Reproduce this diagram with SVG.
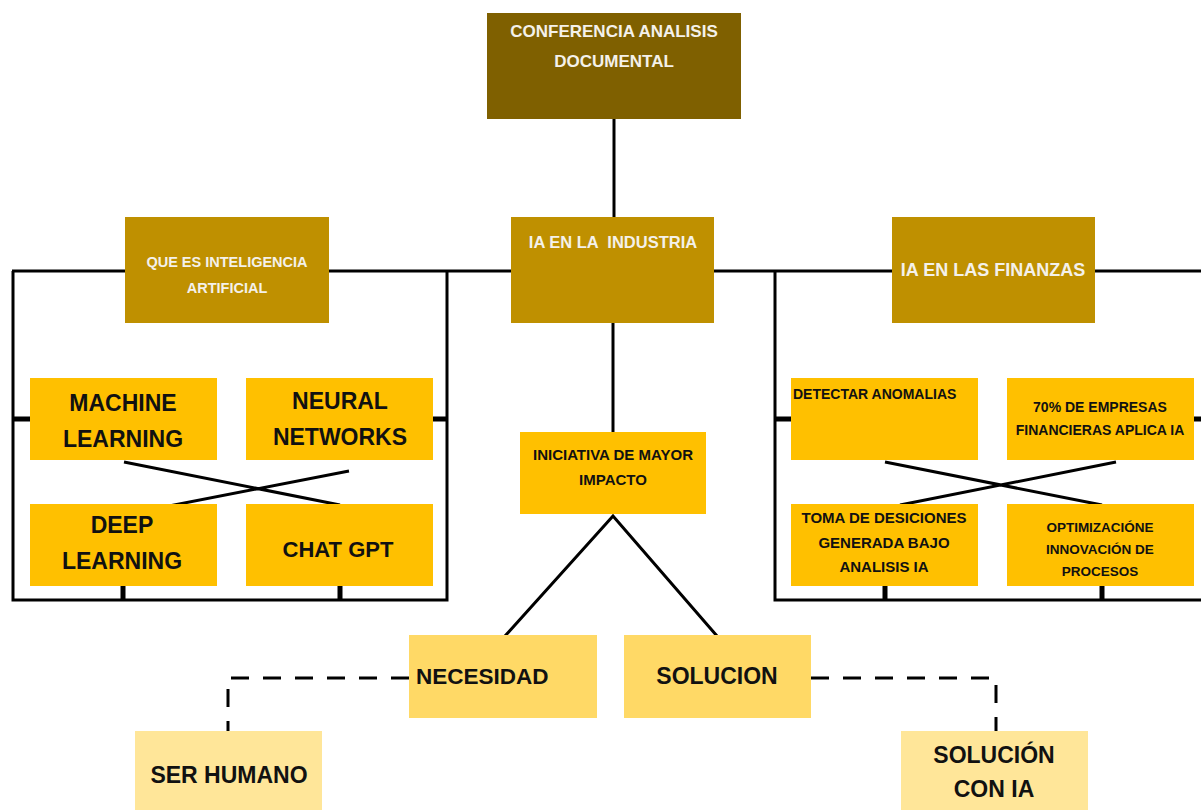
<svg xmlns="http://www.w3.org/2000/svg" width="1201" height="810" viewBox="0 0 1201 810">
<style>
.t{font-family:"Liberation Sans",Arial,sans-serif;font-weight:bold;text-anchor:middle}
.w{fill:#f4f1ea}
.k{fill:#111}
.ln{stroke:#000;stroke-width:3;fill:none}
.st{stroke:#000;stroke-width:5;fill:none}
.ds{stroke:#000;stroke-width:3;fill:none;stroke-dasharray:18 14}
.c1{fill:#7f6000}
.c2{fill:#bf9000}
.c3{fill:#ffc000}
.c4{fill:#ffd966}
.c5{fill:#ffe699}
</style>
<rect width="1201" height="810" fill="#fff"/>
<g id="connectors">
<path class="ln" d="M614,119 V217"/>
<path class="ln" d="M12,271 H1201"/>
<path class="ln" d="M13,271 V600 H447 V271"/>
<path class="st" d="M13,419 H30 M433,419 H447"/>
<path class="st" d="M123,586 V600 M340,586 V600"/>
<path class="ln" d="M124,462 L340,505 M349,471 L133,513"/>
<path class="ln" d="M613,323 V432"/>
<path class="ln" d="M505,636 L613,516 L717,636"/>
<path class="ln" d="M775,271 V600 H1201"/>
<path class="st" d="M775,419 H791 M1194,419 H1201"/>
<path class="st" d="M885,586 V600 M1102,586 V600"/>
<path class="ln" d="M885,462 L1102,505 M1116,462 L900,505"/>
<path class="ds" d="M409,678 H228 V731"/>
<path class="ds" d="M811,678 H996 V731"/>
</g>
<g id="conferencia">
<rect class="c1" x="487" y="13" width="254" height="106"/>
<text class="t w" x="614" y="37" font-size="17">CONFERENCIA ANALISIS</text>
<text class="t w" x="614" y="67" font-size="17">DOCUMENTAL</text>
</g>
<g id="que-es-ia">
<rect class="c2" x="125" y="217" width="204" height="106"/>
<text class="t w" x="227" y="267" font-size="14.5">QUE ES INTELIGENCIA</text>
<text class="t w" x="227" y="293" font-size="14.5">ARTIFICIAL</text>
</g>
<g id="ia-industria">
<rect class="c2" x="511" y="217" width="203" height="106"/>
<text class="t w" x="613" y="248" font-size="16.5" xml:space="preserve">IA EN LA  INDUSTRIA</text>
</g>
<g id="ia-finanzas">
<rect class="c2" x="892" y="217" width="203" height="106"/>
<text class="t w" x="993" y="276" font-size="18">IA EN LAS FINANZAS</text>
</g>
<g id="machine-learning">
<rect class="c3" x="30" y="378" width="187" height="82"/>
<text class="t k" x="123" y="411" font-size="23">MACHINE</text>
<text class="t k" x="123" y="447" font-size="23">LEARNING</text>
</g>
<g id="neural-networks">
<rect class="c3" x="246" y="378" width="187" height="82"/>
<text class="t k" x="340" y="409" font-size="23">NEURAL</text>
<text class="t k" x="340" y="445" font-size="23">NETWORKS</text>
</g>
<g id="deep-learning">
<rect class="c3" x="30" y="504" width="187" height="82"/>
<text class="t k" x="122" y="533" font-size="23">DEEP</text>
<text class="t k" x="122" y="569" font-size="23">LEARNING</text>
</g>
<g id="chat-gpt">
<rect class="c3" x="246" y="504" width="187" height="82"/>
<text class="t k" x="338" y="557" font-size="22">CHAT GPT</text>
</g>
<g id="iniciativa">
<rect class="c3" x="520" y="432" width="186" height="82"/>
<text class="t k" x="613" y="460" font-size="15">INICIATIVA DE MAYOR</text>
<text class="t k" x="613" y="485" font-size="15">IMPACTO</text>
</g>
<g id="detectar">
<rect class="c3" x="791" y="378" width="187" height="82"/>
<text class="t k" x="793" y="399" font-size="14" text-anchor="start" style="text-anchor:start">DETECTAR ANOMALIAS</text>
</g>
<g id="empresas">
<rect class="c3" x="1007" y="378" width="187" height="82"/>
<text class="t k" x="1100" y="412" font-size="14">70% DE EMPRESAS</text>
<text class="t k" x="1100" y="435" font-size="14">FINANCIERAS APLICA IA</text>
</g>
<g id="toma-decisiones">
<rect class="c3" x="791" y="504" width="187" height="82"/>
<text class="t k" x="884" y="523" font-size="15">TOMA DE DESICIONES</text>
<text class="t k" x="884" y="548" font-size="15">GENERADA BAJO</text>
<text class="t k" x="884" y="572" font-size="15">ANALISIS IA</text>
</g>
<g id="optimizacion">
<rect class="c3" x="1007" y="504" width="187" height="82"/>
<text class="t k" x="1100" y="532" font-size="13.5">OPTIMIZACIÓNE</text>
<text class="t k" x="1100" y="554" font-size="13.5">INNOVACIÓN DE</text>
<text class="t k" x="1100" y="576" font-size="13.5">PROCESOS</text>
</g>
<g id="necesidad">
<rect class="c4" x="409" y="635" width="188" height="83"/>
<text class="t k" x="416" y="684" font-size="22.5" style="text-anchor:start">NECESIDAD</text>
</g>
<g id="solucion">
<rect class="c4" x="624" y="635" width="187" height="83"/>
<text class="t k" x="717" y="684" font-size="23">SOLUCION</text>
</g>
<g id="ser-humano">
<rect class="c5" x="135" y="731" width="187" height="79"/>
<text class="t k" x="229" y="783" font-size="23">SER HUMANO</text>
</g>
<g id="solucion-ia">
<rect class="c5" x="901" y="731" width="187" height="79"/>
<text class="t k" x="994" y="763" font-size="23">SOLUCIÓN</text>
<text class="t k" x="994" y="797" font-size="23">CON IA</text>
</g>
</svg>
